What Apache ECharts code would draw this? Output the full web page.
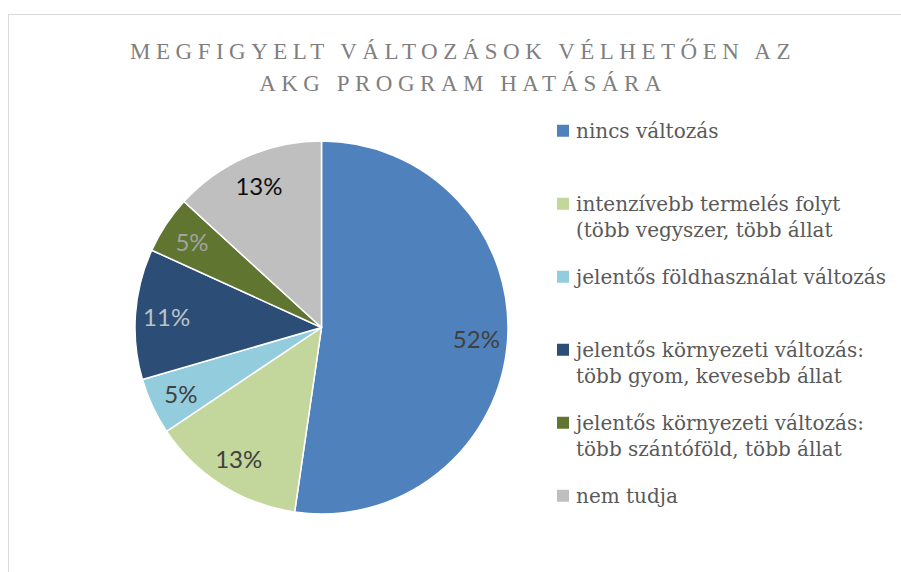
<!DOCTYPE html>
<html>
<head>
<meta charset="utf-8">
<script src="https://cdn.jsdelivr.net/npm/echarts@6/dist/echarts.min.js"></script>
<style>
  html, body { margin: 0; padding: 0; background: #ffffff; }
  #frame { position: absolute; left: 8px; top: 14px; width: 1000px; height: 1000px;
           border-top: 1px solid #d9d9d9; border-left: 1px solid #d9d9d9; }
  #main { position: absolute; left: 0; top: 0; width: 901px; height: 572px; }
</style>
</head>
<body>
<div id="frame"></div>
<div id="main"></div>
<script>
// ---- data ----
const titleLines = ['MEGFIGYELT VÁLTOZÁSOK VÉLHETŐEN AZ', 'AKG PROGRAM HATÁSÁRA'];
const categories = [
  'nincs változás',
  'intenzívebb termelés folyt\n(több vegyszer, több állat',
  'jelentős földhasználat változás',
  'jelentős környezeti változás:\ntöbb gyom, kevesebb állat',
  'jelentős környezeti változás:\ntöbb szántóföld, több állat',
  'nem tudja'
];
const values = [52.3, 13.3, 4.9, 11.3, 5.0, 13.2];

// ---- styles ----
const sliceColors = ['#4f81bd', '#c3d69b', '#93cddd', '#2c4d75', '#5f7530', '#bfbfbf'];
const labelColors = ['#404040', '#404040', '#404040', '#bcc3cc', '#a3a3a3', '#0d0d0d'];

const chart = echarts.init(document.getElementById('main'), null, { renderer: 'svg' });

const legends = categories.map((name, i) => {
  const twoLine = name.indexOf('\n') >= 0;
  return {
    data: [{ name: name, icon: twoLine ? 'path://M0,0H12V12H0Z M0,38.5L0.01,38.5Z' : 'rect' }],
    orient: 'vertical',
    left: 557,
    top: 117.5 + i * 73,
    padding: 0,
    itemWidth: 12,
    itemHeight: twoLine ? 38.5 : 12,
    selectedMode: false,
    itemStyle: { borderWidth: 0 },
    textStyle: { fontFamily: 'DejaVu Serif', fontSize: 20, color: '#595959', lineHeight: 26.5, padding: [0, 0, 0, 2] }
  };
});

const option = {
  animation: false,
  backgroundColor: 'transparent',
  title: {
    text: titleLines.join('\n'),
    left: 463,
    textAlign: 'center',
    top: 35,
    padding: 0,
    textStyle: { fontFamily: 'Liberation Serif', fontSize: 23, fontWeight: 'normal', color: '#7f7f7f', lineHeight: 32 }
  },
  legend: legends,
  series: [
    {
      type: 'pie',
      center: [321.5, 327.5],
      radius: [0, 186.5],
      startAngle: 90,
      clockwise: true,
      label: { show: false },
      labelLine: { show: false },
      emphasis: { disabled: true },
      itemStyle: { borderColor: '#ffffff', borderWidth: 1.5 },
      data: categories.map((n, i) => ({ name: n, value: values[i], itemStyle: { color: sliceColors[i] } }))
    },
    {
      type: 'pie',
      center: [321.5, 327.5],
      radius: [118, 186.5],
      startAngle: 90,
      clockwise: true,
      silent: true,
      emphasis: { disabled: true },
      itemStyle: { color: 'transparent', borderWidth: 0 },
      labelLine: { show: false },
      label: {
        show: true,
        position: 'inside',
        fontFamily: 'Lato',
        fontSize: 24,
        formatter: p => Math.round(p.percent) + '%'
      },
      data: categories.map((n, i) => ({ name: n, value: values[i], label: { color: labelColors[i] } }))
    }
  ]
};

chart.setOption(option);

function spaceTitle() {
  const texts = document.querySelectorAll('#main svg text');
  texts.forEach(t => {
    if (titleLines.indexOf(t.textContent) >= 0) {
      t.setAttribute('letter-spacing', '5.5');
    }
  });
}
spaceTitle();
chart.on('rendered', spaceTitle);
chart.on('finished', spaceTitle);
</script>
</body>
</html>
